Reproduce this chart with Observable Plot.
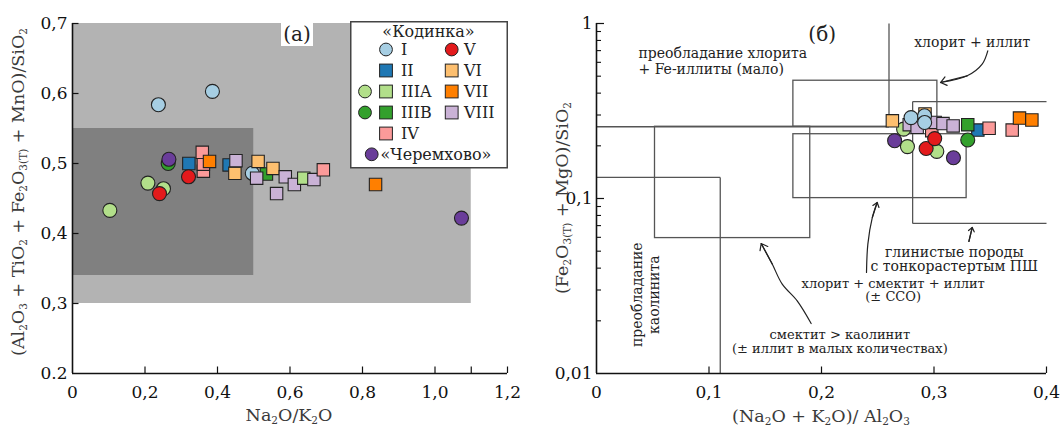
<!DOCTYPE html>
<html><head><meta charset="utf-8">
<script src="https://cdn.jsdelivr.net/npm/d3@7"></script>
<script src="https://cdn.jsdelivr.net/npm/@observablehq/plot@0.6"></script>
<style>
body{margin:0;background:#fff;}
#wrap{position:relative;width:1062px;height:430px;font-family:"DejaVu Serif",serif;color:#222;overflow:hidden;}
.panel{position:absolute;top:0;}
.lbl{position:absolute;white-space:nowrap;transform:translate(-50%,-50%);font-size:17.5px;color:#3a3a3a;line-height:1;z-index:5;}
.lbl sub{font-size:60%;vertical-align:baseline;position:relative;top:0.25em;}
.rot{transform:translate(-50%,-50%) rotate(-90deg);}
.tag{position:absolute;background:#fff;font-size:20px;color:#222;text-align:center;z-index:5;}
</style></head>
<body><div id="wrap"></div>
<script>
// ---------- groups ----------
const groups = ["I","II","IIIA","IIIB","IV","V","VI","VII","VIII","Черемхово"];
const groupColors = ["#a6cee3","#1f78b4","#b2df8a","#33a02c","#fb9a99","#e31a1c","#fdbf6f","#ff7f00","#cab2d6","#6a3d9a"];

// ---------- panel (а): Na2O/K2O vs (Al2O3+TiO2+Fe2O3+MnO)/SiO2 (drawing order) ----------
const aGroup = ["I","I","I","II","IIIB","IIIA","IIIA","IIIA","IIIB","II","IV","IV","IV","VII","VI","VIII","VI","VI","VIII","VIII","VIII","VIII","IIIA","VIII","IV","VII","V","V","Черемхово","Черемхово"];
const aShape = ["circle","circle","circle","square","square","circle","circle","circle","circle","square","square","square","square","square","square","square","square","square","square","square","square","square","square","square","square","square","circle","circle","circle","circle"];
const aX = [0.237,0.386,0.496,0.432,0.535,0.103,0.208,0.251,0.264,0.321,0.361,0.361,0.358,0.378,0.448,0.451,0.512,0.553,0.508,0.563,0.587,0.612,0.638,0.666,0.692,0.836,0.320,0.240,0.266,1.073];
const aY = [0.584,0.603,0.486,0.498,0.485,0.433,0.472,0.464,0.500,0.500,0.489,0.499,0.516,0.503,0.486,0.504,0.503,0.493,0.479,0.457,0.481,0.470,0.479,0.477,0.491,0.470,0.481,0.457,0.506,0.422];
// shaded fields (outer light, inner dark)
const zoneX1 = [0, 0], zoneX2 = [1.1, 0.5], zoneY1 = [0.3, 0.34], zoneY2 = [0.7, 0.55];
const aXTicks = [0.2,0.4,0.6,0.8,1.0,1.1,1.2];
const aXLabelVals = [0,0.2,0.4,0.6,0.8,1.0,1.2];
const aXLabels = ["0","0,2","0,4","0,6","0,8","1,0","1,2"];
const aYTicks = [0.3,0.4,0.5,0.6,0.7];
const aYLabelVals = [0.2,0.3,0.4,0.5,0.6,0.7];
const aYLabels = ["0.2","0,3","0,4","0,5","0,6","0,7"];

// ---------- panel (б): (Na2O+K2O)/Al2O3 vs (Fe2O3+MgO)/SiO2 (drawing order) ----------
const bGroup = ["IIIA","VI","VI","VIII","VIII","IV","VIII","VIII","VIII","II","IIIB","IV","IV","VII","VII","I","I","I","Черемхово","IIIA","IIIA","V","V","IIIB","Черемхово"];
const bShape = ["circle","square","square","square","square","square","square","square","square","square","square","square","square","square","square","circle","circle","circle","circle","circle","circle","circle","circle","circle","circle"];
const bX = [0.273,0.263,0.292,0.278,0.285,0.298,0.301,0.308,0.317,0.339,0.330,0.349,0.3695,0.376,0.387,0.2796,0.2916,0.2917,0.265,0.2764,0.3025,0.2930,0.3006,0.330,0.3173];
const bY = [0.249,0.278,0.304,0.264,0.255,0.244,0.272,0.268,0.260,0.246,0.264,0.252,0.246,0.288,0.281,0.290,0.297,0.272,0.214,0.198,0.186,0.193,0.220,0.216,0.171];
// classification fields: closed boxes
const boxX1 = [0.052, 0.175, 0.175], boxX2 = [0.19, 0.303, 0.329];
const boxY1 = [0.0594, 0.257, 0.1005], boxY2 = [0.257, 0.471, 0.233];
// open boundary segments
const segX1 = [0, 0.11, 0, 0.26, 0.281, 0.281, 0.281];
const segY1 = [0.132, 0.132, 0.257, 1, 0.358, 0.358, 0.072];
const segX2 = [0.11, 0.11, 0.26, 0.26, 0.4, 0.281, 0.4];
const segY2 = [0.132, 0.01, 0.257, 0.257, 0.358, 0.072, 0.072];
// annotations
const annText = ["преобладание хлорита\n+ Fe-иллиты (мало)","хлорит + иллит","глинистые породы\nс тонкорастертым ПШ","хлорит + смектит + иллит\n(± ССО)","смектит > каолинит\n(± иллит в малых количествах)","преобладание\nкаолинита","(б)"];
const annX = [0.0373, 0.334, 0.318, 0.2637, 0.2163, 0.043, 0.2006];
const annY = [0.610, 0.779, 0.0448, 0.0300, 0.0152, 0.0282, 0.865];
// curved arrows
const arrowId = [1,1,1,1, 2,2,2,2, 3,3, 4,4,4,4,4];
const arrowX = [0.3478,0.3428,0.3295,0.3058, 0.2400,0.2412,0.2452,0.2495, 0.331,0.334, 0.1908,0.1784,0.1651,0.1562,0.1464];
const arrowY = [0.698,0.586,0.5025,0.460, 0.0378,0.0549,0.0779,0.0949, 0.0568,0.0683, 0.0193,0.0260,0.0324,0.0422,0.0553];
const bXTicks = [0.1,0.2,0.3,0.4];
const bXLabelVals = [0,0.1,0.2,0.3,0.4];
const bXLabels = ["0","0,1","0,2","0,3","0,4"];
const bYMajor = [0.1,1];
const bYMinor = [0.02,0.03,0.04,0.05,0.06,0.07,0.08,0.09,0.2,0.3,0.4,0.5,0.6,0.7,0.8,0.9];
const bYLabelVals = [0.01,0.1,1];
const bYLabels = ["0,01","0,1","1"];

// ---------- legend ----------
const legendCol1 = ["I","II","IIIA","IIIB","IV"];
const legendCol2 = ["V","VI","VII","VIII"];
const legendShape = {I:"circle",II:"square",IIIA:"square",IIIB:"square",IV:"square",V:"circle",VI:"square",VII:"square",VIII:"square"};
const legendExtraCircle = ["IIIA","IIIB"];

// ---------- build ----------
const colorOf = Object.fromEntries(groups.map((g,i)=>[g,groupColors[i]]));
const squareSymbol = {draw(ctx, size){const s=1.06*Math.sqrt(size/Math.PI); ctx.rect(-s,-s,2*s,2*s);}};
const symbolScale = {domain:["circle","square"], range:[d3.symbolCircle, squareSymbol]};
const colorScale = {domain: groups, range: groupColors};
const AX = "#111";
const font = "'DejaVu Serif', serif";
const wrap = document.getElementById("wrap");

const pointsA = aX.map((x,i)=>({x, y:aY[i], group:aGroup[i], shape:aShape[i]}));
const zones = zoneX1.map((x1,i)=>({x1, x2:zoneX2[i], y1:zoneY1[i], y2:zoneY2[i]}));

const plotA = Plot.plot({
  width: 530, height: 430,
  marginLeft: 72, marginRight: 23, marginTop: 23, marginBottom: 57,
  style: {fontFamily: font, fontSize: "17px", color: AX, background: "transparent", overflow: "visible"},
  x: {domain: [0, 1.2], axis: null},
  y: {domain: [0.2, 0.7], axis: null},
  color: colorScale, symbol: symbolScale,
  marks: [
    Plot.rect([zones[0]], {x1:"x1", x2:"x2", y1:"y1", y2:"y2", fill:"#b3b3b3"}),
    Plot.rect([zones[1]], {x1:"x1", x2:"x2", y1:"y1", y2:"y2", fill:"#808080"}),
    Plot.dot(pointsA, {x:"x", y:"y", fill:"group", symbol:"shape", r:7, stroke:"#222", strokeWidth:1.1}),
    Plot.ruleX(aXTicks, {x:d=>d, y1:0.2, y2:0.2, insetBottom:6.5, stroke:AX, strokeWidth:1.2}),
    Plot.ruleY(aYTicks, {y:d=>d, x1:0, x2:0, insetRight:-6.5, stroke:AX, strokeWidth:1.2}),
    Plot.ruleX([0], {stroke:AX, strokeWidth:1.6}),
    Plot.ruleY([0.2], {stroke:AX, strokeWidth:1.6}),
    Plot.axisX({ticks:aXLabelVals, tickSize:0, tickPadding:12, label:null, fontSize:17, fill:AX,
      tickFormat:d=>aXLabels[aXLabelVals.indexOf(d)]}),
    Plot.axisY({ticks:aYLabelVals, tickSize:0, tickPadding:5, label:null, fontSize:17, fill:AX,
      tickFormat:d=>aYLabels[aYLabelVals.indexOf(d)]})
  ]
});
plotA.classList.add("panel"); plotA.style.left = "0px";
wrap.appendChild(plotA);

const pointsB = bX.map((x,i)=>({x, y:bY[i], group:bGroup[i], shape:bShape[i]}));
const boxes = boxX1.map((x1,i)=>({x1, x2:boxX2[i], y1:boxY1[i], y2:boxY2[i]}));
const segs = segX1.map((x1,i)=>({x1, y1:segY1[i], x2:segX2[i], y2:segY2[i]}));
const arrows = arrowX.map((x,i)=>({id:arrowId[i], x, y:arrowY[i]}));
const heads = d3.groups(arrows, d=>d.id).map(([id, pts])=>{
  const a = pts[pts.length-2], b = pts[pts.length-1];
  return {x1:a.x, y1:a.y, x2:b.x, y2:b.y};
});
const ann = annText.map((t,i)=>({text:t, x:annX[i], y:annY[i]}));
const LC = "#555";
const TC = "#222";

const plotB = Plot.plot({
  width: 522, height: 430,
  marginLeft: 56, marginRight: 16, marginTop: 23, marginBottom: 57,
  style: {fontFamily: font, fontSize: "17px", color: AX, background: "transparent", overflow: "visible"},
  x: {domain: [0, 0.4], axis: null},
  y: {type: "log", domain: [0.01, 1], axis: null},
  color: colorScale, symbol: symbolScale,
  marks: [
    Plot.rect(boxes, {x1:"x1", x2:"x2", y1:"y1", y2:"y2", fill:"none", stroke:LC, strokeWidth:1.3}),
    Plot.link(segs, {x1:"x1", y1:"y1", x2:"x2", y2:"y2", stroke:LC, strokeWidth:1.3}),
    Plot.text([ann[0]], {x:"x", y:"y", text:"text", textAnchor:"start", lineHeight:1.15, fontSize:14, fill:TC}),
    Plot.text([ann[1]], {x:"x", y:"y", text:"text", fontSize:14, fill:TC}),
    Plot.text([ann[2]], {x:"x", y:"y", text:"text", lineHeight:1.0, fontSize:14, fill:TC}),
    Plot.text([ann[3]], {x:"x", y:"y", text:"text", lineHeight:1.05, fontSize:13, fill:TC}),
    Plot.text([ann[4]], {x:"x", y:"y", text:"text", lineHeight:1.05, fontSize:13, fill:TC}),
    Plot.text([ann[5]], {x:"x", y:"y", text:"text", lineHeight:1.2, rotate:-90, fontSize:14, fill:TC}),
    Plot.text([ann[6]], {x:"x", y:"y", text:"text", fontSize:20, fill:TC}),
    Plot.line(arrows, {x:"x", y:"y", z:"id", curve:"catmull-rom", stroke:TC, strokeWidth:1.2}),
    Plot.arrow(heads, {x1:"x1", y1:"y1", x2:"x2", y2:"y2", headLength:9, headAngle:75, stroke:TC, strokeWidth:1.2}),
    Plot.dot(pointsB, {x:"x", y:"y", fill:"group", symbol:"shape", r:7, stroke:"#222", strokeWidth:1.1}),
    Plot.ruleX(bXTicks, {x:d=>d, y1:0.01, y2:0.01, insetBottom:6.5, stroke:AX, strokeWidth:1.2}),
    Plot.ruleY(bYMajor, {y:d=>d, x1:0, x2:0, insetRight:-8, stroke:AX, strokeWidth:1.2}),
    Plot.ruleY(bYMinor, {y:d=>d, x1:0, x2:0, insetRight:-5, stroke:AX, strokeWidth:1.1}),
    Plot.ruleX([0], {stroke:AX, strokeWidth:1.6}),
    Plot.ruleY([0.01], {stroke:AX, strokeWidth:1.6}),
    Plot.axisX({ticks:bXLabelVals, tickSize:0, tickPadding:12, label:null, fontSize:17, fill:AX,
      tickFormat:d=>bXLabels[bXLabelVals.indexOf(d)]}),
    Plot.axisY({ticks:bYLabelVals, tickSize:0, tickPadding:4, label:null, fontSize:17, fill:AX,
      tickFormat:d=>bYLabels[bYLabelVals.indexOf(d)]})
  ]
});
plotB.classList.add("panel"); plotB.style.left = "540px";
wrap.appendChild(plotB);

// axis titles
function label(html, left, top, rot){
  const d = document.createElement("div");
  d.className = "lbl" + (rot ? " rot" : "");
  d.style.left = left + "px"; d.style.top = top + "px";
  d.innerHTML = html; wrap.appendChild(d);
}
label("Na<sub>2</sub>O/K<sub>2</sub>O", 289, 416, false);
label("(Al<sub>2</sub>O<sub>3</sub> + TiO<sub>2</sub> + Fe<sub>2</sub>O<sub>3(T)</sub> + MnO)/SiO<sub>2</sub>", 19, 192, true);
label("(Na<sub>2</sub>O + K<sub>2</sub>O)/ Al<sub>2</sub>O<sub>3</sub>", 821, 417, false);
label("(Fe<sub>2</sub>O<sub>3(T)</sub> + MgO)/SiO<sub>2</sub>", 563, 198, true);

// panel tag (а)
const tag = document.createElement("div");
tag.className = "tag";
Object.assign(tag.style, {left:"281px", top:"23px", width:"32px", height:"23px", lineHeight:"23px"});
tag.textContent = "(а)";
wrap.appendChild(tag);

// legend
const lg = d3.select(wrap).append("svg")
  .attr("width", 159).attr("height", 148)
  .style("position","absolute").style("left","350px").style("top","20.5px").style("z-index",6)
  .style("font-family", font);
lg.append("rect").attr("x",0.75).attr("y",0.75).attr("width",156.5).attr("height",146)
  .attr("fill","white").attr("stroke","#444").attr("stroke-width",1.5);
function sw(shape, cx, cy, color){
  if (shape === "circle") lg.append("circle").attr("cx",cx).attr("cy",cy).attr("r",6.4)
    .attr("fill",color).attr("stroke","#222").attr("stroke-width",1);
  else lg.append("rect").attr("x",cx-6.4).attr("y",cy-6.4).attr("width",12.8).attr("height",12.8)
    .attr("fill",color).attr("stroke","#222").attr("stroke-width",1);
}
function lt(txt, x, y, anchor){
  lg.append("text").attr("x",x).attr("y",y).attr("dominant-baseline","central")
    .attr("text-anchor",anchor||"start").attr("font-size",16).attr("fill","#222").text(txt);
}
lt("«Кодинка»", 78.5, 10.5, "middle");
legendCol1.forEach((g,i)=>{
  const y = 28.5 + 21*i;
  if (legendExtraCircle.includes(g)) sw("circle", 15, y, colorOf[g]);
  sw(legendShape[g], 36, y, colorOf[g]);
  lt(g, 51, y);
});
legendCol2.forEach((g,i)=>{
  const y = 28.5 + 21*i;
  sw(legendShape[g], 101.7, y, colorOf[g]);
  lt(g, 114, y);
});
sw("circle", 21.7, 133.3, colorOf["Черемхово"]);
lt("«Черемхово»", 30.5, 133.3);
</script></body></html>
